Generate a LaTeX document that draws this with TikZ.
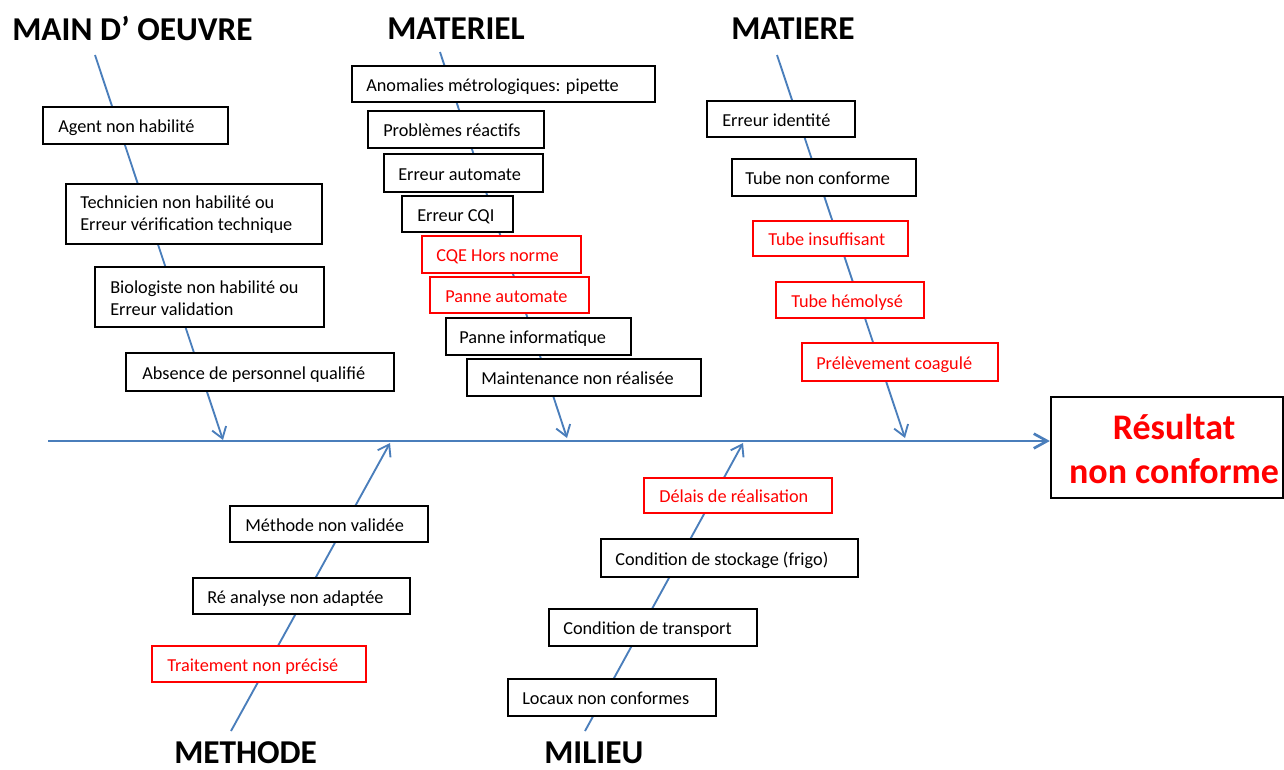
\documentclass[tikz,border=0pt]{standalone}
\usepackage{fontspec}
\setmainfont{Carlito}
\usetikzlibrary{arrows.meta}
\definecolor{bonecol}{HTML}{4A7EBB}
\definecolor{redc}{HTML}{FF0000}
\tikzset{
 bone/.style={draw=bonecol, line width=1.4pt, -{Straight Barb[length=8pt,width=11pt]}},
 spine/.style={draw=bonecol, line width=2pt, -{Straight Barb[length=10pt,width=11pt]}},
 bbox/.style={draw=black, line width=1.7pt, fill=white, inner sep=0pt},
 rbox/.style={draw=redc, line width=1.7pt, fill=white, inner sep=0pt},
 btxt/.style={inner sep=0pt, font=\fontsize{13.7}{16.5}\selectfont, text=black, align=left},
 rtxt/.style={btxt, text=redc},
 titletxt/.style={inner sep=0pt, font=\fontsize{25}{30}\selectfont\bfseries, anchor=base west},
 efftxt/.style={inner sep=0pt, font=\fontsize{27}{33}\selectfont\bfseries, text=redc, align=center},
}
% name, style(b/r), left, top, right, bottom, text start, text
\newcommand\cbx[8]{%
 \node[#2box, minimum width={(#5-#3)*0.75pt}, minimum height={(#6-#4)*0.75pt}] (#1) at ({(#3+#5)/2},{(#4+#6)/2}) {};
 \node[#2txt, anchor=base west] (#1t) at (#7,{(#4+#6)/2+7}) {#8};
}
\newcommand\cbxx[8]{%
 \node[#2box, minimum width={(#5-#3)*0.75pt}, minimum height={(#6-#4)*0.75pt}] (#1) at ({(#3+#5)/2},{(#4+#6)/2}) {};
 \node[#2txt, anchor=west] (#1t) at (#7,{(#4+#6)/2+1}) {#8};
}
\begin{document}
\begin{tikzpicture}[x=0.75pt,y=-0.75pt]
\useasboundingbox[fill=white] (0,0) rectangle (1284,769);
% effect box
\node[bbox, minimum width={(1283-1051)*0.75pt}, minimum height={(498-397)*0.75pt}] (eff) at (1167,447.5) {};
\node[efftxt] (efft) at (1174,448.5) {Résultat\\non conforme};
% spine
\coordinate (s0) at (48,441);
\draw[spine] (s0) -- (s0 -| eff.west);
% bones
\coordinate (mo0) at (95,55);   \coordinate (mo1) at (223,440);
\coordinate (ma0) at (440,52);  \coordinate (ma1) at (567,438);
\coordinate (mt0) at (777,55);  \coordinate (mt1) at (905,438);
\coordinate (me0) at (231,731); \coordinate (me1) at (390,443);
\coordinate (mi0) at (585,731); \coordinate (mi1) at (743,443);
\draw[bone] (mo0) -- (mo1);
\draw[bone] (ma0) -- (ma1);
\draw[bone] (mt0) -- (mt1);
\draw[bone] (me0) -- (me1);
\draw[bone] (mi0) -- (mi1);
% titles
\node[titletxt] (tmo) at (12,40) {MAIN D’ OEUVRE};
\node[titletxt] (tma) at (387,39) {MATERIEL};
\node[titletxt] (tmt) at (731,39) {MATIERE};
\node[titletxt] (tme) at (174,763) {METHODE};
\node[titletxt] (tmi) at (544,763) {MILIEU};
% MAIN D'OEUVRE
\cbx{a1}{b}{43}{107}{228}{144}{58}{Agent non habilité}
\cbxx{a2}{b}{66}{184}{322}{244}{80}{Technicien non habilité ou\\Erreur vérification technique}
\cbxx{a3}{b}{95}{267}{324}{327}{110}{Biologiste non habilité ou\\Erreur validation}
\cbx{a4}{b}{126}{353}{394}{391}{142}{Absence de personnel qualifié}
% MATERIEL
\cbx{b1}{b}{352}{66}{655}{102}{366}{Anomalies métrologiques: pipette}
\cbx{b2}{b}{368}{111}{544}{148}{383}{Problèmes réactifs}
\cbx{b3}{b}{384}{154}{543}{192}{398}{Erreur automate}
\cbx{b4}{b}{402}{196}{513}{232}{417}{Erreur CQI}
\cbx{b5}{r}{422}{236}{581}{273}{436}{CQE Hors norme}
\cbx{b6}{r}{430}{277}{589}{313}{445}{Panne automate}
\cbx{b7}{b}{446}{318}{631}{355}{459}{Panne informatique}
\cbx{b8}{b}{467}{359}{701}{396}{481}{Maintenance non réalisée}
% MATIERE
\cbx{c1}{b}{707}{101}{855}{137}{722}{Erreur identité}
\cbx{c2}{b}{732}{159}{916}{196}{745}{Tube non conforme}
\cbx{c3}{r}{753}{221}{908}{256}{768}{Tube insuffisant}
\cbx{c4}{r}{776}{282}{924}{318}{791}{Tube hémolysé}
\cbx{c5}{r}{802}{343}{998}{381}{816}{Prélèvement coagulé}
% METHODE
\cbx{d1}{b}{230}{506}{428}{542}{245}{Méthode non validée}
\cbx{d2}{b}{193}{578}{410}{614}{207}{Ré analyse non adaptée}
\cbx{d3}{r}{152}{646}{366}{682}{167}{Traitement non précisé}
% MILIEU
\cbx{e1}{r}{644}{478}{832}{513}{659}{Délais de réalisation}
\cbx{e2}{b}{601}{539}{858}{577}{615}{Condition de stockage (frigo)}
\cbx{e3}{b}{549}{609}{757}{646}{563}{Condition de transport}
\cbx{e4}{b}{508}{679}{716}{716}{522}{Locaux non conformes}
\end{tikzpicture}
\end{document}
